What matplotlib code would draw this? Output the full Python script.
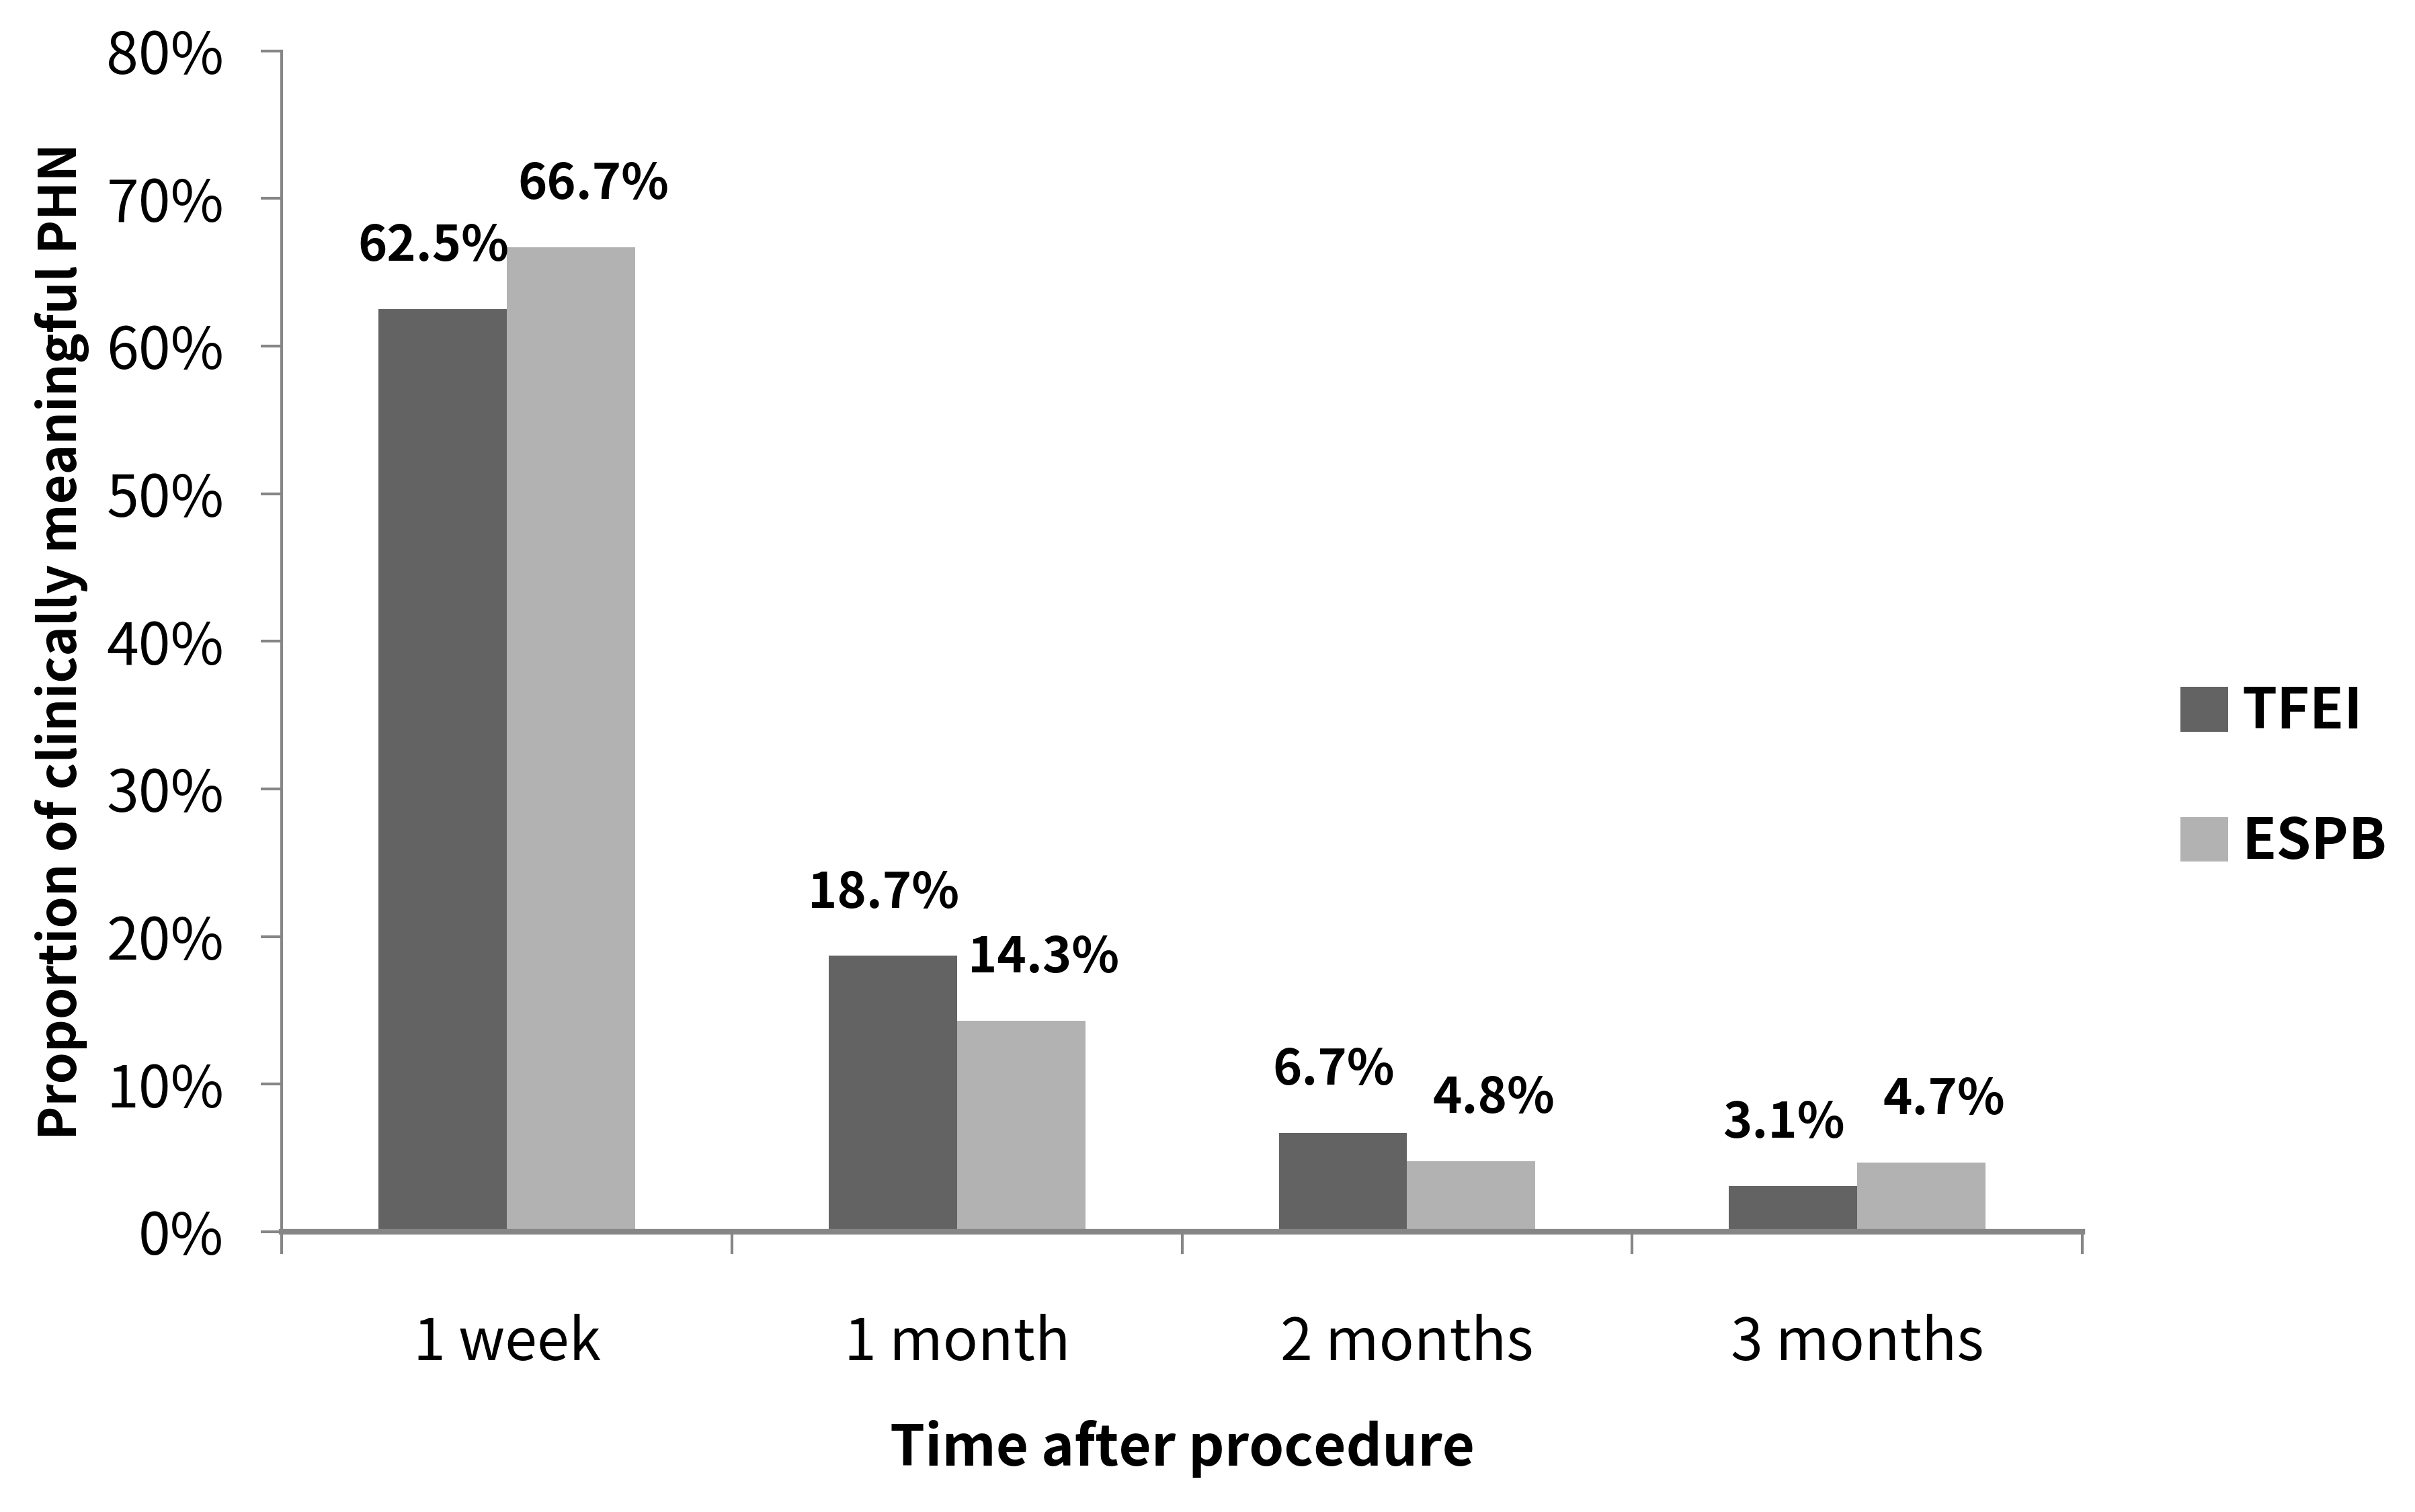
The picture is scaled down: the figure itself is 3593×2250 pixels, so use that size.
import matplotlib
matplotlib.use("Agg")
import matplotlib.pyplot as plt
import numpy as np

plt.rcParams['font.family'] = ['Noto Sans CJK KR', 'DejaVu Sans']

times = ["1 week", "1 month", "2 months", "3 months"]
tfei = [62.5, 18.7, 6.7, 3.1]
espb = [66.7, 14.3, 4.8, 4.7]
groups = ["TFEI", "ESPB"]
yticks = [0, 10, 20, 30, 40, 50, 60, 70, 80]

c_tfei = "#636363"
c_espb = "#b2b2b2"
axis_col = "#868686"

fig = plt.figure(figsize=(17.965, 11.25), dpi=200)
ax = fig.add_axes([0.1167, 0.1853, 0.7455, 0.7811])

x = np.arange(len(times))
w = 0.285
b1 = ax.bar(x - w / 2, tfei, w, color=c_tfei, label=groups[0])
b2 = ax.bar(x + w / 2, espb, w, color=c_espb, label=groups[1])

for bars, vals, dx in ((b1, tfei, -0.02), (b2, espb, 0.05)):
    for r, v in zip(bars, vals):
        ax.annotate("%.1f%%" % v, (r.get_x() + r.get_width() / 2 + dx, v),
                    xytext=(0, 20), textcoords="offset points",
                    ha="center", va="bottom", fontsize=26.5, fontweight="bold")

ax.set_xlim(-0.5, len(times) - 0.5)
ax.set_ylim(0, 80)
ax.set_yticks(yticks)
ax.set_yticklabels(["%d%%" % t for t in yticks])
ax.set_xticks(x)
ax.set_xticklabels(times)
ax.set_xticks(np.arange(-0.5, len(times)), minor=True)

for s in ("top", "right"):
    ax.spines[s].set_visible(False)
ax.spines["left"].set_color(axis_col)
ax.spines["left"].set_linewidth(1.5)
ax.spines["bottom"].set_color(axis_col)
ax.spines["bottom"].set_linewidth(3)

ax.tick_params(axis="y", direction="out", length=11, width=1.5, color=axis_col,
               pad=20, labelsize=31)
ax.tick_params(axis="x", which="major", length=0, pad=44, labelsize=31)
ax.tick_params(axis="x", which="minor", direction="out", length=12, width=1.5,
               color=axis_col)

ax.set_xlabel("Time after procedure", fontsize=30, fontweight="bold", labelpad=25)
ax.set_ylabel("Proportion of clinically meaningful PHN", fontsize=27.3,
              fontweight="bold")
ax.yaxis.set_label_coords(-0.107, 0.5)

leg = ax.legend(loc="center left", bbox_to_anchor=(1.042, 0.385), frameon=False,
                fontsize=30, handlelength=0.85, handleheight=0.85,
                labelspacing=1.3, handletextpad=0.25, borderaxespad=0)
for t in leg.get_texts():
    t.set_fontweight("bold")

fig.savefig("out.png", dpi=200, facecolor="white")
